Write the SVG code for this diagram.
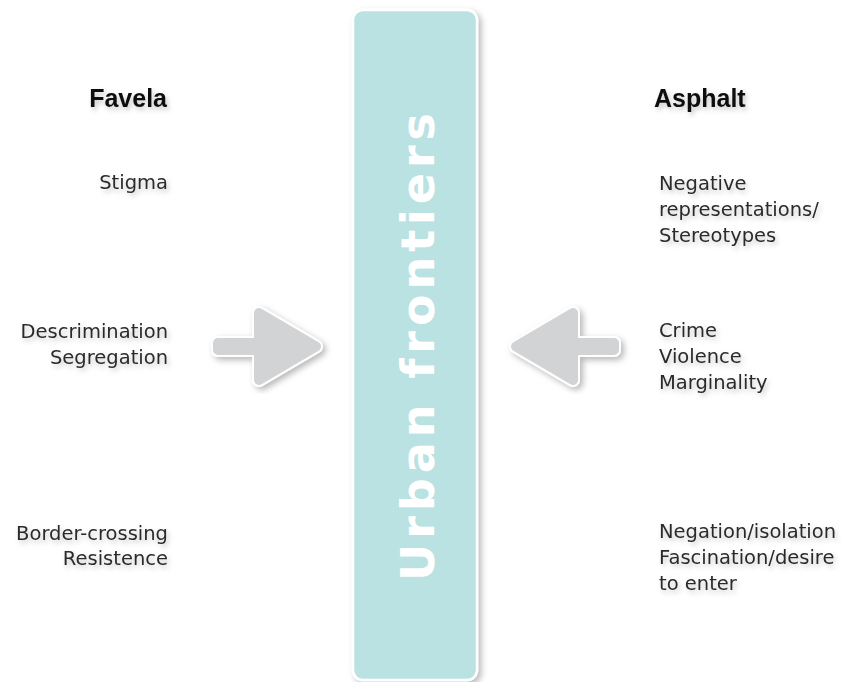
<svg xmlns="http://www.w3.org/2000/svg" width="848" height="682" viewBox="0 0 848 682">
  <defs>
    <filter id="shadow" x="-20%" y="-20%" width="140%" height="140%">
      <feDropShadow dx="3" dy="3" stdDeviation="3" flood-color="#000" flood-opacity="0.28"/>
    </filter>
    <filter id="tshadow" x="-10%" y="-30%" width="130%" height="180%">
      <feDropShadow dx="2" dy="3" stdDeviation="2.5" flood-color="#000" flood-opacity="0.22"/>
    </filter>
  </defs>
  <style>
    .hdr { font-family: "Liberation Sans", Arial, sans-serif; font-weight: bold; font-size: 25px; fill: #111; }
    .lbl { font-family: "DejaVu Sans", "Liberation Sans", sans-serif; font-size: 19.5px; fill: #2b2b2b; }
    .left { text-anchor: end; }
    .title { font-family: "DejaVu Sans", sans-serif; font-weight: bold; font-size: 46px; fill: #ffffff; }
    .arrow-outline { fill: none; stroke: #ffffff; stroke-width: 14; stroke-linejoin: round; }
    .arrow-body { fill: #d2d3d5; stroke: #d2d3d5; stroke-width: 10; stroke-linejoin: round; }
  </style>

  <g id="frontier-bar">
    <rect x="353" y="10" width="124" height="670" rx="10" ry="10" fill="#bae2e2" stroke="#ffffff" stroke-width="2.5" filter="url(#shadow)"/>
    <text class="title" transform="translate(434,347) rotate(-90)" x="0" y="0" text-anchor="middle" textLength="468" lengthAdjust="spacing">Urban frontiers</text>
  </g>

  <g id="connectors">
    <g id="arrow-left" filter="url(#shadow)">
      <path class="arrow-outline" d="M218,343 L259,343 L259,313 L316,346.5 L259,380 L259,350 L218,350 Z"/>
      <path class="arrow-body" d="M218,343 L259,343 L259,313 L316,346.5 L259,380 L259,350 L218,350 Z"/>
    </g>
    <g id="arrow-right" filter="url(#shadow)">
      <path class="arrow-outline" d="M614,343 L573,343 L573,313 L516,346.5 L573,380 L573,350 L614,350 Z"/>
      <path class="arrow-body" d="M614,343 L573,343 L573,313 L516,346.5 L573,380 L573,350 L614,350 Z"/>
    </g>
  </g>

  <g id="favela" filter="url(#tshadow)">
    <text class="hdr left" x="167" y="107">Favela</text>
    <text class="lbl left" x="168" y="189">Stigma</text>
    <text class="lbl left" x="168" y="338">Descrimination</text>
    <text class="lbl left" x="168" y="364">Segregation</text>
    <text class="lbl left" x="168" y="540">Border-crossing</text>
    <text class="lbl left" x="168" y="565">Resistence</text>
  </g>

  <g id="asphalt" filter="url(#tshadow)">
    <text class="hdr" x="654" y="107">Asphalt</text>
    <text class="lbl" x="659" y="190">Negative</text>
    <text class="lbl" x="659" y="216">representations/</text>
    <text class="lbl" x="659" y="242">Stereotypes</text>
    <text class="lbl" x="659" y="337">Crime</text>
    <text class="lbl" x="659" y="363">Violence</text>
    <text class="lbl" x="659" y="389">Marginality</text>
    <text class="lbl" x="659" y="538">Negation/isolation</text>
    <text class="lbl" x="659" y="564">Fascination/desire</text>
    <text class="lbl" x="659" y="590">to enter</text>
  </g>
</svg>
